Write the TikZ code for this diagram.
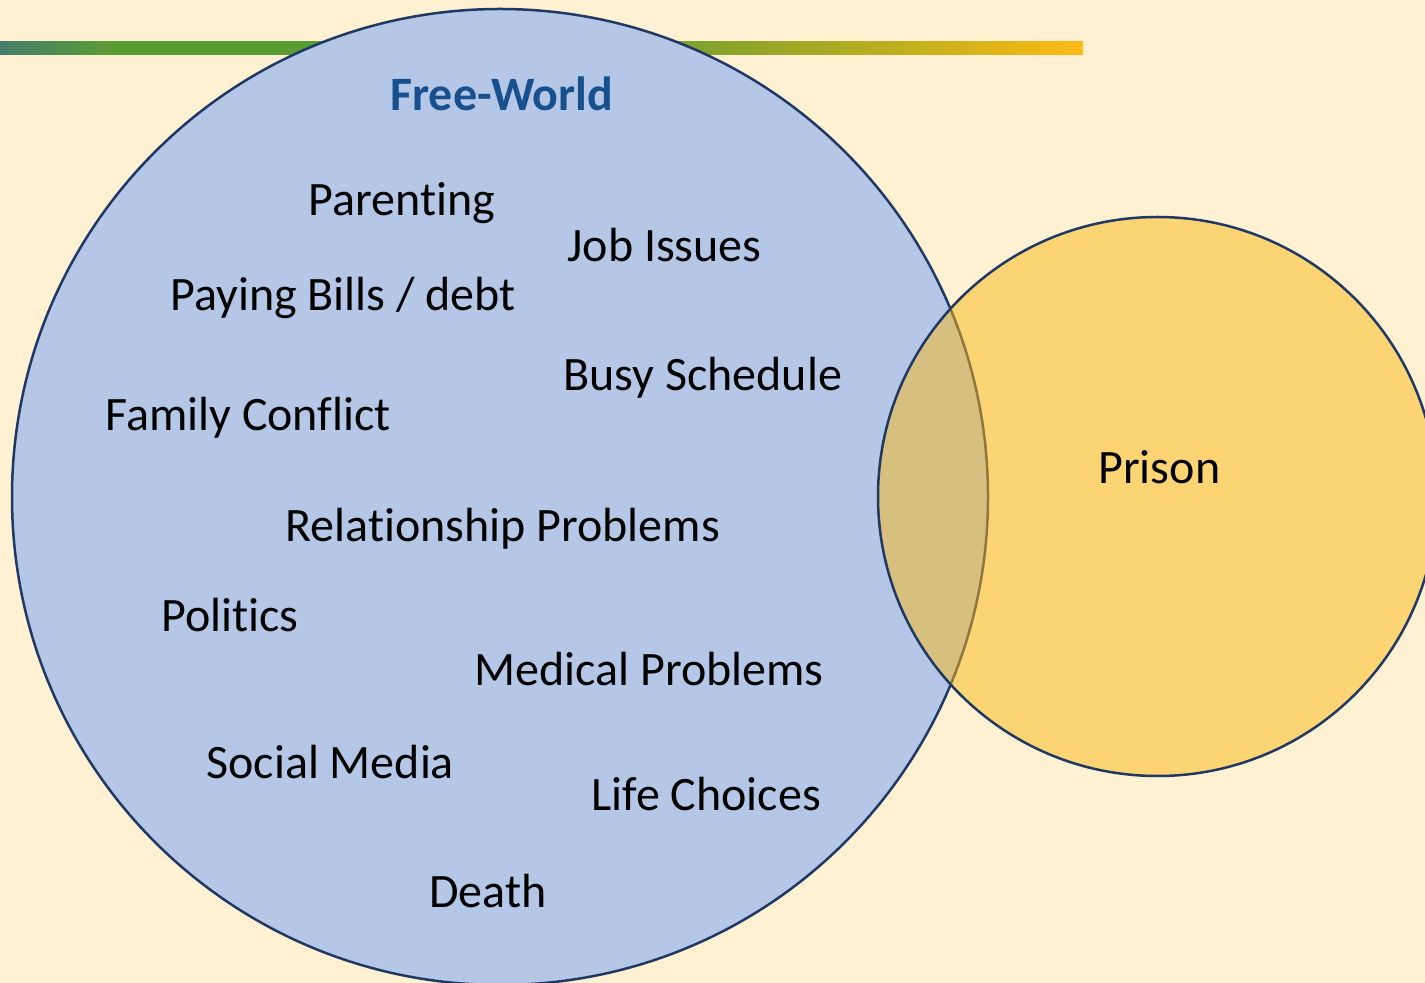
\documentclass[tikz,border=0pt]{standalone}
\usepackage{fontspec}
\setmainfont{Carlito}[Ligatures=NoCommon]
\usetikzlibrary{shapes,positioning}

\definecolor{paper}{RGB}{255,241,210}
\definecolor{ringline}{RGB}{31,56,100}
\definecolor{freefill}{RGB}{180,199,231}
\definecolor{prisonfill}{RGB}{251,184,24}
\definecolor{titleblue}{RGB}{24,80,142}
\definecolor{barteal}{RGB}{72,124,108}
\definecolor{bargreen}{RGB}{91,155,52}
\definecolor{baryellow}{RGB}{253,186,19}

\pgfdeclarehorizontalshading{barshade}{100bp}{color(0bp)=(barteal); color(25bp)=(barteal); color(30bp)=(bargreen); color(52bp)=(bargreen); color(75bp)=(baryellow); color(100bp)=(baryellow)}

\tikzset{
  ring/.style={circle,draw=ringline,line width=1.25pt,inner sep=0pt,outer sep=0pt},
  word/.style={anchor=base west,inner sep=0pt,font=\fontsize{24}{28}\selectfont}
}

\begin{document}
\begin{tikzpicture}[x=0.5pt,y=-0.5pt]
\useasboundingbox (0,0) rectangle (1425,983);
\fill[paper] (0,0) rectangle (1425,983);
\shade[shading=barshade] (0,42) rectangle (1083,55);

\node[ring,fill=freefill,minimum size=488pt] (free) at (500,497) {};
\node[ring,fill=prisonfill,fill opacity=.5,minimum size=279.5pt] (prison) at (1157.5,496.5) {};

\node[word,font=\fontsize{24}{28}\selectfont\bfseries,text=titleblue] (title) at (390,111) {Free-World};
\node[word] (P) at (1098,484) {Prison};

\foreach \x/\y/\t [count=\n] in
  {308/216/Parenting, 567/262/Job Issues, 170/311/Paying Bills \slash{} debt,
   563/391/Busy Schedule, 105/431/Family Conflict, 285/542/Relationship Problems,
   161/632/Politics, 474/686/Medical Problems, 206/778/Social Media,
   591/811/Life Choices, 429/907/Death}
  \node[word] (W\n) at (\x,\y) {\t};
\end{tikzpicture}
\end{document}
